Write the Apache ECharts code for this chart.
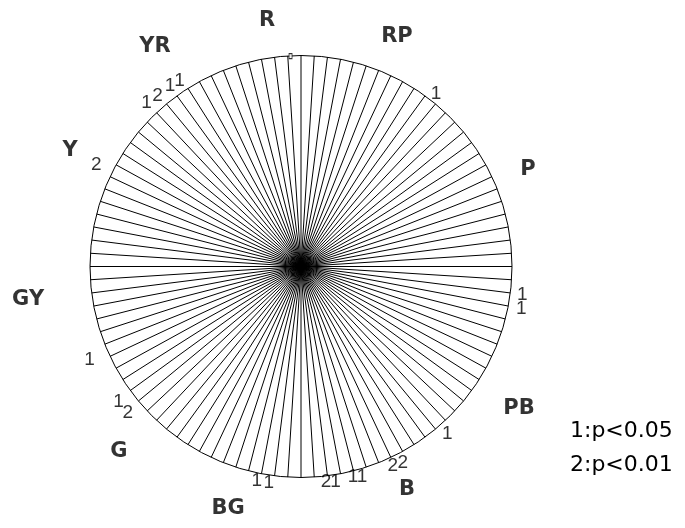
<!DOCTYPE html>
<html><head><meta charset="utf-8">
<script src="https://cdn.jsdelivr.net/npm/echarts@6/dist/echarts.min.js"></script>
<style>html,body{margin:0;padding:0;background:#fff}#c{width:685px;height:528px}</style>
</head><body><div id="c"></div>
<script>
// Munsell hue circle: 10 principal hues x 10 steps = 100 hue directions (counter-clockwise from R at top)
const hues = ['R','YR','Y','GY','G','BG','B','PB','P','RP'];
const stepsPerHue = 10;

// hue-name label placement (position in hue steps, 0..100, and radius relative to the circle)
const huePos = [2.18, 9.31, 17.57, 26.94, 37.65, 45.33, 57.05, 65.79, 81.40, 93.72];
const hueRad = [1.179, 1.253, 1.226, 1.303, 1.232, 1.196, 1.172, 1.234, 1.169, 1.183];

// significance marks: hue position, radius, level (1: p<0.05, 2: p<0.01)
const sigPos = [89.43, 73.0, 71.98, 61.44, 56.88, 57.61, 51.84, 52.54, 53.86, 54.49,
                46.77, 47.65, 35.14, 36.18, 31.59, 17.65, 12.04, 11.11, 10.0, 9.24];
const sigRad = [1.039, 1.057, 1.063, 1.052, 1.039, 1.048, 1.026, 1.032, 1.028, 1.039,
                1.039, 1.036, 1.076, 1.076, 1.095, 1.084, 1.067, 1.058, 1.056, 1.050];
const sigLevel = [1, 1, 1, 1, 2, 2, 2, 1, 1, 1,
                  1, 1, 1, 2, 1, 2, 1, 2, 1, 1];

// small marker near the top of the circle
const topMarkPos = [0.79];
const topMarkRad = [0.998];

const legendLines = ['1:p<0.05', '2:p<0.01'];

const chart = echarts.init(document.getElementById('c'));
chart.setOption({
  backgroundColor: '#fff',
  animation: false,
  polar: { center: [301, 266.5], radius: 211 },
  angleAxis: {
    type: 'value', min: 0, max: hues.length * stepsPerHue, interval: 1,
    startAngle: 90, clockwise: false,
    axisLine: { show: true, lineStyle: { color: '#000', width: 1 } },
    axisTick: { show: false }, axisLabel: { show: false },
    splitLine: { show: true, lineStyle: { color: '#000', width: 1 } }
  },
  radiusAxis: {
    type: 'value', min: 0, max: 1,
    axisLine: { show: false }, axisTick: { show: false }, axisLabel: { show: false },
    splitLine: { show: false }
  },
  series: [
    {
      type: 'scatter', coordinateSystem: 'polar', clip: false, silent: true,
      symbolSize: 0, itemStyle: { color: 'transparent' },
      data: hues.map((h, i) => ({ value: [hueRad[i], huePos[i]], name: h })),
      label: { show: true, position: 'inside', formatter: p => p.name, color: '#000',
        fontFamily: 'DejaVu Sans', fontWeight: 'bold', fontSize: 21 }
    },
    {
      type: 'scatter', coordinateSystem: 'polar', clip: false, silent: true,
      symbolSize: 0, itemStyle: { color: 'transparent' },
      data: sigPos.map((p, i) => ({ value: [sigRad[i], p], name: String(sigLevel[i]) })),
      label: { show: true, position: 'inside', formatter: p => p.name, color: '#000',
        fontFamily: 'Liberation Sans', fontSize: 19 }
    },
    {
      type: 'scatter', coordinateSystem: 'polar', clip: false, silent: true,
      symbol: 'rect', symbolSize: [3, 5],
      itemStyle: { color: '#fff', borderColor: '#000', borderWidth: 1 },
      data: topMarkPos.map((p, i) => [topMarkRad[i], p])
    }
  ],
  graphic: legendLines.map((t, i) => ({
    type: 'text', left: 570, top: 420 + i * 34,
    style: { text: t, fill: '#000', font: '22px "DejaVu Sans"' }
  }))
});
</script></body></html>
